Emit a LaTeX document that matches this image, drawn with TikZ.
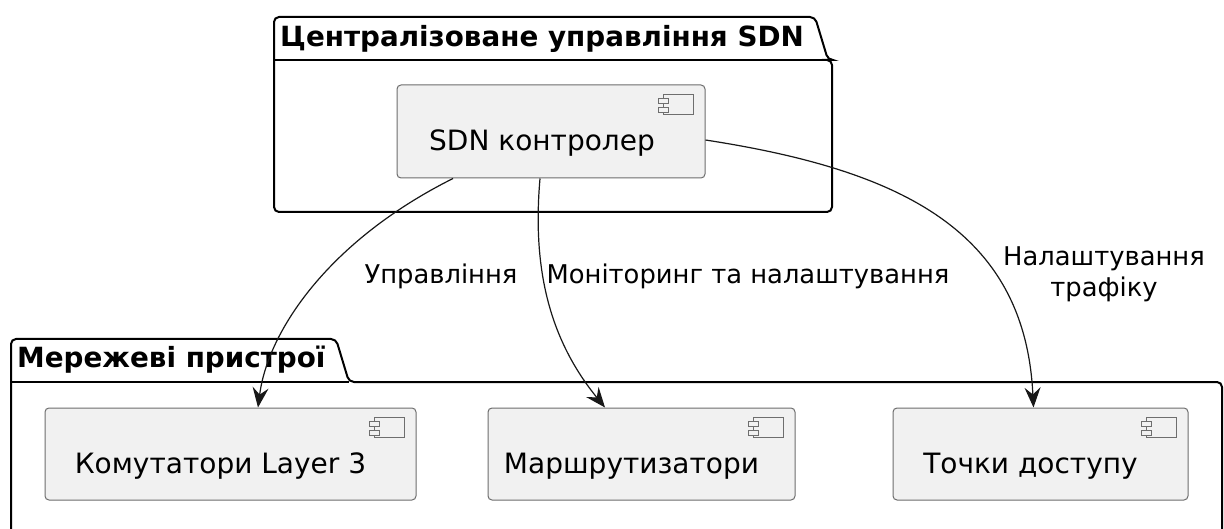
\documentclass[tikz,border=0pt]{standalone}
\usepackage{fontspec}
\setmainfont{DejaVu Sans}
\usetikzlibrary{arrows.meta,calc}
\definecolor{edgecol}{HTML}{181818}
\definecolor{compfill}{HTML}{F1F1F1}
\definecolor{compline}{HTML}{6E6E6E}
\tikzset{
  pkg/.style={draw=black, line width=2pt, rounded corners=5pt, fill=white},
  pkgline/.style={draw=black, line width=2pt},
  pkgtitle/.style={font=\bfseries\fontsize{27.8}{33}\selectfont, inner sep=0pt, anchor=west},
  comp/.style={draw=compline, line width=1pt, fill=compfill, rounded corners=4pt, inner sep=0pt},
  ctext/.style={font=\fontsize{28}{33}\selectfont, inner sep=0pt},
  elabel/.style={font=\fontsize{25.8}{31}\selectfont, inner sep=0pt, align=center},
  conn/.style={draw=edgecol, line width=1.2pt, -{Stealth[length=20pt,width=16pt,inset=7pt]}},
  icon/.style={draw=compline, line width=1pt, fill=compfill}
}
\newcommand\compicon[1]{%
  \draw[icon] ($(#1.north east)+(-42,10)$) rectangle ($(#1.north east)+(-12,30)$);
  \draw[icon] ($(#1.north east)+(-47,14)$) rectangle ($(#1.north east)+(-37,19)$);
  \draw[icon] ($(#1.north east)+(-47,23)$) rectangle ($(#1.north east)+(-37,28)$);
}
\begin{document}
\begin{tikzpicture}[x=1pt,y=-1pt]
\useasboundingbox (0,0) rectangle (1224,529);
\clip (0,0) rectangle (1224,529);
\fill[white] (0,0) rectangle (1224,529);

% package: centralised SDN management
\draw[pkg] (274,212) -- (274,17) -- (815,17) -- (828,60) -- (832,60) -- (832,212) -- cycle;
\draw[pkgline] (274,60) -- (828,60);
\node[pkgtitle] (t1) at (280,39) {Централізоване управління SDN};

% package: network devices
\draw[pkg] (11,560) -- (11,339) -- (336,339) -- (349,382) -- (1222,382) -- (1222,560) -- cycle;
\draw[pkgline] (11,382) -- (349,382);
\node[pkgtitle] (t2) at (17,360) {Мережеві пристрої};

% components
\node[comp, minimum width=308pt, minimum height=93pt] (sdn) at (551,131.5) {};
\node[ctext] (sdnt) at ([xshift=-9pt,yshift=-12pt]sdn.center) {SDN контролер};
\compicon{sdn}

\node[comp, minimum width=371pt, minimum height=92pt] (sw) at (230.5,454) {};
\node[ctext] (swt) at ([xshift=-10pt,yshift=-12pt]sw.center) {Комутатори Layer 3};
\compicon{sw}

\node[comp, minimum width=307pt, minimum height=92pt] (rt) at (641.5,454) {};
\node[ctext] (rtt) at ([xshift=-10pt,yshift=-12pt]rt.center) {Маршрутизатори};
\compicon{rt}

\node[comp, minimum width=295pt, minimum height=92pt] (ap) at (1040.5,454) {};
\node[ctext] (apt) at ([xshift=-10pt,yshift=-12pt]ap.center) {Точки доступу};
\compicon{ap}

% connectors
\coordinate (s1) at ([xshift=-98pt]sdn.south);
\coordinate (e1) at ([xshift=27.5pt]sw.north);
\draw[conn] (s1) .. controls (330,240) and (268,330) .. (e1);
\node[elabel] (l1) at (441,276) {Управління};

\coordinate (s2) at ([xshift=-11pt]sdn.south);
\coordinate (e2) at ([xshift=-36.5pt]rt.north);
\draw[conn] (s2) .. controls (532,270) and (550,340) .. (e2);
\node[elabel] (l2) at (748,276) {Моніторинг та налаштування};

\coordinate (s3) at ([yshift=-8.5pt]sdn.east);
\coordinate (e3) at ([xshift=-7pt]ap.north);
\draw[conn] (s3) .. controls (900,170) and (1025,230) .. (e3);
\node[elabel] (l3) at (1104,274) {Налаштування\\трафіку};
\end{tikzpicture}
\end{document}
